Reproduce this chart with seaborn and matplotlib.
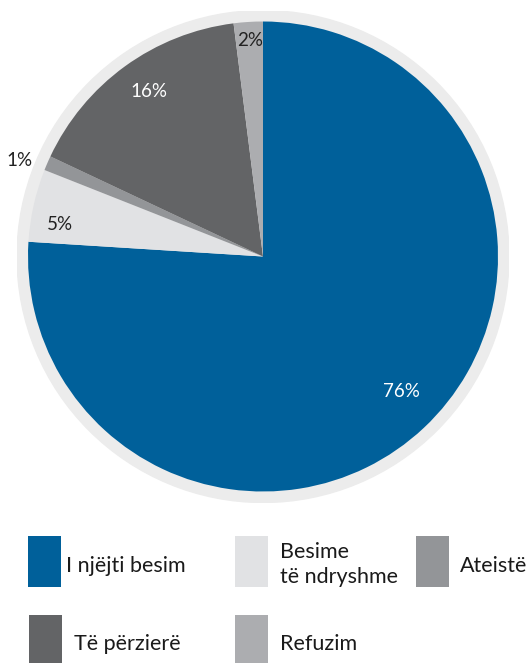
import numpy as np
import matplotlib
matplotlib.use("Agg")
import matplotlib.pyplot as plt
from matplotlib.patches import Circle, Rectangle
import seaborn as sns

# ---- data ----
categories = ["I njëjti besim", "Besime\ntë ndryshme", "Ateistë", "Të përzierë", "Refuzim"]
values = [76, 5, 1, 16, 2]
pct_labels = ["76%", "5%", "1%", "16%", "2%"]

# ---- style ----
colors = ["#00609a", "#e1e2e4", "#939598", "#636466", "#acadb0"]
label_colors = ["white", "#222222", "#222222", "white", "#222222"]
label_dist = [0.823, 0.873, 1.115, 0.852, 0.921]
label_ang_shift = [2.7, 3.5, 2.0, -1.3, -0.3]

sns.set_theme(style="white")
plt.rcParams['font.family'] = ['Lato', 'DejaVu Sans']

W, H = 531, 663
fig = plt.figure(figsize=(W / 100, H / 100), dpi=100)

# pie axes placed in pixel coordinates
cx, cy, R, ring = 263, 256.5, 235, 246
lim = ring / R
ax = fig.add_axes([(cx - ring) / W, 1 - (cy + ring) / H, 2 * ring / W, 2 * ring / H])

ax.add_patch(Circle((0, 0), lim, color="#ececec", zorder=0))
wedges, _ = ax.pie(values, colors=colors, startangle=90, counterclock=False,
                   radius=1, wedgeprops=dict(linewidth=0))
for w in wedges:
    w.set_zorder(1)
ax.set_xlim(-lim, lim)
ax.set_ylim(-lim, lim)
ax.set_aspect("equal")
ax.axis("off")

for w, lab, d, s, c in zip(wedges, pct_labels, label_dist, label_ang_shift, label_colors):
    ang = np.deg2rad((w.theta1 + w.theta2) / 2 + s)
    ax.text(d * np.cos(ang), d * np.sin(ang), lab, ha="center", va="center",
            fontsize=13.5, color=c, zorder=3, clip_on=False)

# ---- legend (manual layout) ----
patch_pos = [(28, 536), (235, 536), (416, 536), (29, 615), (235, 615)]
text_pos = [(66, 571.5), (280, 558), (460, 572), (74, 650.5), (280, 650)]
pw, ph = 33, 51
for i, (cat, col) in enumerate(zip(categories, colors)):
    px, py = patch_pos[i]
    fig.add_artist(Rectangle((px / W, 1 - (py + ph) / H), pw / W, ph / H,
                             transform=fig.transFigure, color=col, linewidth=0))
    tx, ty = text_pos[i]
    lines = cat.split("\n")
    for j, ln in enumerate(lines):
        fig.text(tx / W, 1 - (ty + j * 25) / H, ln, ha="left", va="baseline",
                 fontsize=15.5, color="#1a1a1a")

fig.savefig("out.png", dpi=100)
